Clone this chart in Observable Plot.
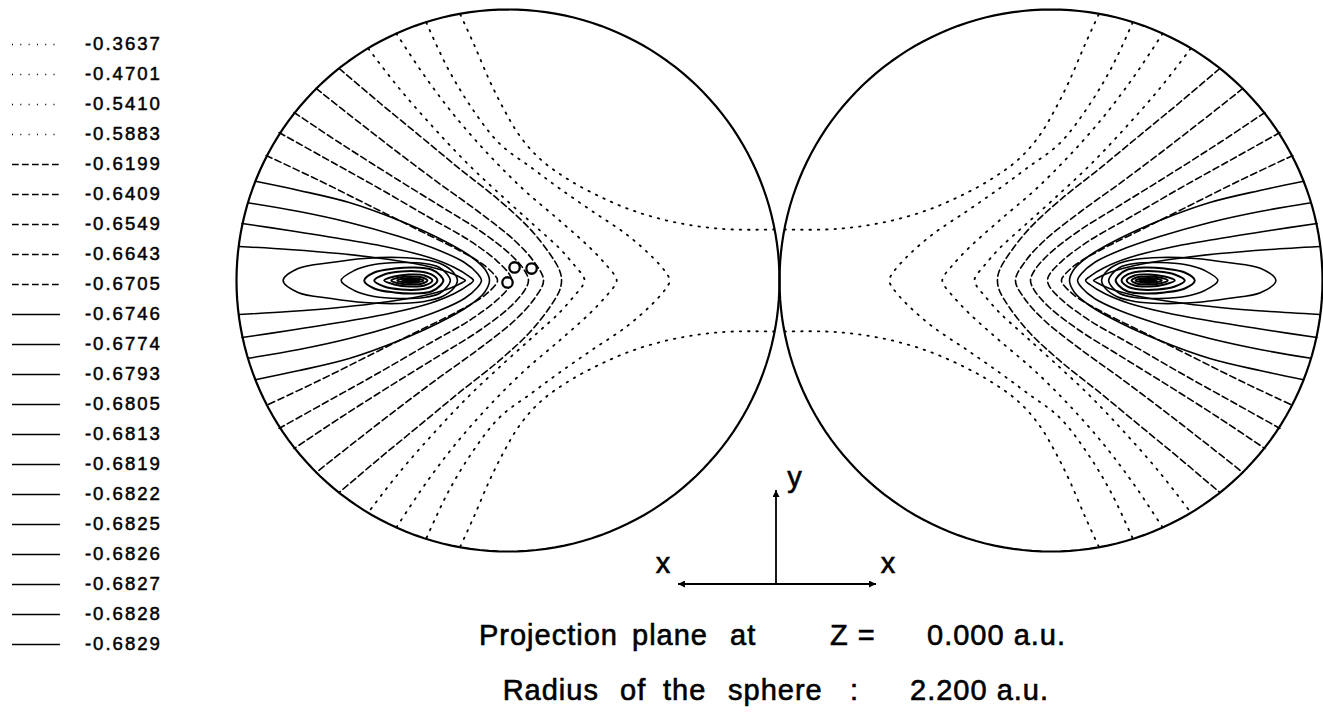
<!DOCTYPE html>
<html>
<head>
<meta charset="utf-8">
<script src="https://cdn.jsdelivr.net/npm/d3@7"></script>
<script src="https://cdn.jsdelivr.net/npm/@observablehq/plot@0.6"></script>
<style>
  html, body { margin: 0; padding: 0; background: #fff; }
  #page { position: relative; width: 1323px; height: 716px; overflow: hidden;
          font-family: "Liberation Sans", Arial, sans-serif; }
  #chart, #legend, #notes { position: absolute; left: 0; top: 0; }
  #notes { pointer-events: none; }
  #notes text { fill: #000; stroke: #000; stroke-width: 0.6px; letter-spacing: 1px; }
</style>
</head>
<body>
<div id="page">
  <div id="chart"></div>
  <div id="legend"></div>
  <svg id="notes" width="1323" height="716" font-family="Liberation Sans, Arial, sans-serif">
    <defs>
      <marker id="head" viewBox="0 0 10 10" refX="10" refY="5" markerUnits="userSpaceOnUse"
              markerWidth="9" markerHeight="7" orient="auto-start-reverse">
        <path d="M0,0L10,5L0,10z" fill="#000"/>
      </marker>
    </defs>
    <!-- orientation of the two projected hemispheres -->
    <line x1="776" y1="584" x2="776" y2="490" stroke="#000" stroke-width="1.8" marker-end="url(#head)"/>
    <line x1="678" y1="584" x2="876" y2="584" stroke="#000" stroke-width="1.8"
          marker-start="url(#head)" marker-end="url(#head)"/>
    <text x="663.5" y="573" font-size="29" text-anchor="middle">x</text>
    <text x="888.5" y="573" font-size="29" text-anchor="middle">x</text>
    <text x="795" y="487" font-size="29" text-anchor="middle">y</text>
    <text y="645" font-size="29">
      <tspan x="627" text-anchor="end">Projection</tspan>
      <tspan x="632">plane</tspan>
      <tspan x="730">at</tspan>
      <tspan x="830">Z =</tspan>
      <tspan x="927">0.000 a.u.</tspan>
    </text>
    <text y="700" font-size="29">
      <tspan x="608" text-anchor="end">Radius</tspan>
      <tspan x="620">of</tspan>
      <tspan x="663">the</tspan>
      <tspan x="728">sphere</tspan>
      <tspan x="850">:</tspan>
      <tspan x="910">2.200 a.u.</tspan>
    </text>
  </svg>
</div>
<script>
// Contour levels of the projected energy surface (hartree)
const contourLevels = [-0.3637, -0.4701, -0.5410, -0.5883, -0.6199, -0.6409, -0.6549, -0.6643,
  -0.6705, -0.6746, -0.6774, -0.6793, -0.6805, -0.6813, -0.6819, -0.6822, -0.6825, -0.6826,
  -0.6827, -0.6828, -0.6829];
const levelLabels = contourLevels.map(v => v.toFixed(4));
const lineStyles = ["dotted", "dotted", "dotted", "dotted",
  "dashed", "dashed", "dashed", "dashed", "dashed",
  "solid", "solid", "solid", "solid", "solid", "solid", "solid", "solid", "solid", "solid", "solid", "solid"];
// branch: reaches the equator on both sides; open: meets the rim; loop: closed around the minimum
const traceShapes = ["branch",
  "open", "open", "open", "open", "open", "open", "open", "open", "open", "open", "open", "open",
  "loop", "loop", "loop", "loop", "loop", "loop", "loop", "loop"];

// Upper half (y >= 0) of each contour, [x, y] in a.u. on the sphere of radius 2.2
const c3637 = [[0.386, 2.159], [0.272, 1.908], [0.150, 1.624], [0.028, 1.380], [-0.093, 1.177],
  [-0.256, 0.990], [-0.475, 0.828], [-0.743, 0.682], [-1.011, 0.568], [-1.287, 0.487],
  [-1.555, 0.438], [-1.822, 0.414], [-2.155, 0.414]];
const c4701 = [[0.662, 2.094], [0.491, 1.729], [0.296, 1.404], [0.069, 1.112], [-0.199, 0.909],
  [-0.418, 0.747], [-0.686, 0.560], [-0.962, 0.373], [-1.173, 0.187], [-1.279, 0.065], [-1.311, 0]];
const c5410 = [[0.905, 2.005], [0.678, 1.664], [0.434, 1.339], [0.150, 1.015], [-0.134, 0.731],
  [-0.418, 0.487], [-0.662, 0.268], [-0.800, 0.122], [-0.865, 0.041], [-0.881, 0]];
const c5883 = [[1.132, 1.883], [0.881, 1.559], [0.597, 1.234], [0.313, 0.934], [0.028, 0.666],
  [-0.215, 0.446], [-0.418, 0.260], [-0.540, 0.122], [-0.605, 0.041], [-0.621, 0]];
const c6199 = [[1.368, 1.721], [1.043, 1.445], [0.718, 1.177], [0.394, 0.909], [0.069, 0.649],
  [-0.175, 0.422], [-0.337, 0.219], [-0.418, 0.081], [-0.434, 0]];
const c6409 = [[1.555, 1.559], [1.206, 1.283], [0.881, 1.031], [0.556, 0.787], [0.231, 0.552],
  [-0.053, 0.325], [-0.215, 0.146], [-0.288, 0]];
const c6549 = [[1.733, 1.364], [1.368, 1.120], [0.962, 0.861], [0.556, 0.609], [0.231, 0.406],
  [-0.012, 0.219], [-0.134, 0.081], [-0.166, 0]];
const c6643 = [[1.855, 1.201], [1.449, 0.974], [1.043, 0.747], [0.637, 0.511], [0.313, 0.325],
  [0.093, 0.162], [-0.012, 0.049], [-0.028, 0]];
const c6705 = [[1.960, 1.015], [1.530, 0.812], [1.124, 0.609], [0.718, 0.406], [0.394, 0.244],
  [0.191, 0.122], [0.093, 0.024], [0.085, 0]];
const c6746 = [[2.047, 0.805], [1.693, 0.731], [1.287, 0.633], [0.881, 0.487], [0.556, 0.341],
  [0.313, 0.203], [0.191, 0.097], [0.150, 0]];
const c6774 = [[2.107, 0.631], [1.693, 0.560], [1.287, 0.471], [0.881, 0.357], [0.556, 0.244],
  [0.353, 0.146], [0.248, 0.057], [0.215, 0]];
const c6793 = [[2.155, 0.463], [1.774, 0.406], [1.368, 0.341], [0.962, 0.268], [0.637, 0.187],
  [0.434, 0.106], [0.313, 0.032], [0.280, 0]];
const c6805 = [[2.180, 0.276], [1.774, 0.252], [1.368, 0.219], [0.962, 0.170], [0.678, 0.122],
  [0.475, 0.065], [0.369, 0.016], [0.345, 0]];
const c6813 = [[1.822, 0], [1.701, 0.097], [1.433, 0.146], [1.165, 0.179], [0.889, 0.187],
  [0.678, 0.170], [0.532, 0.130], [0.442, 0.065], [0.410, 0]];
const c6819 = [[1.352, 0], [1.246, 0.081], [1.084, 0.130], [0.881, 0.146], [0.678, 0.138],
  [0.556, 0.106], [0.491, 0.049], [0.467, 0]];
const c6822 = [[1.165, 0], [1.084, 0.065], [0.921, 0.097], [0.759, 0.106], [0.621, 0.089],
  [0.548, 0.041], [0.524, 0]];
const c6825 = [[1.084, 0], [1.003, 0.049], [0.865, 0.073], [0.718, 0.073], [0.621, 0.049], [0.572, 0]];
const c6826 = [[1.003, 0], [0.921, 0.032], [0.800, 0.049], [0.678, 0.041], [0.613, 0]];
const c6827 = [[0.946, 0], [0.881, 0.024], [0.783, 0.032], [0.694, 0.024], [0.653, 0]];
const c6828 = [[0.897, 0], [0.840, 0.016], [0.743, 0.016], [0.686, 0]];
const c6829 = [[0.856, 0], [0.800, 0.008], [0.751, 0.008], [0.718, 0]];
const upperTraces = [c3637, c4701, c5410, c5883, c6199, c6409, c6549, c6643, c6705, c6746,
  c6774, c6793, c6805, c6813, c6819, c6822, c6825, c6826, c6827, c6828, c6829];

// Marked points in the left view, [x, y] in a.u.
const markedPoints = [[0.004, -0.016], [-0.053, 0.106], [-0.191, 0.097]];

const sphereRadius = 2.2;

// The left view has x pointing left, the right view has x pointing right.
const hemispheres = [
  {name: "left", center: -sphereRadius, sign: -1},
  {name: "right", center: sphereRadius, sign: 1}
];

const mirror = pts => pts.map(([x, y]) => [x, -y]);
function pieces(pts, shape) {
  if (shape === "branch") return [pts, mirror(pts)];
  if (shape === "open") return [pts.concat(mirror(pts.slice(0, -1)).reverse())];
  return [pts.concat(mirror(pts.slice(1, -1)).reverse())];
}

const rows = [];
upperTraces.forEach((pts, i) => {
  for (const h of hemispheres) {
    pieces(pts, traceShapes[i]).forEach((piece, k) => {
      for (const [x, y] of piece) {
        rows.push({id: `${h.name}-${i}-${k}`, level: contourLevels[i], style: lineStyles[i],
          shape: traceShapes[i], u: h.center + h.sign * x, y});
      }
    });
  }
});

const rim = [];
for (const h of hemispheres) {
  for (const a of d3.range(0, 361, 2)) {
    const t = a * Math.PI / 180;
    rim.push({id: h.name, u: h.center + sphereRadius * Math.cos(t), y: sphereRadius * Math.sin(t)});
  }
}

const marked = markedPoints.map(([x, y]) => ({u: -sphereRadius - x, y}));

const dashFor = {solid: undefined, dashed: "6.5,3.5", dotted: "1.5,6.8"};
const widthFor = {solid: 1.6, dashed: 1.6, dotted: 1.8};

const contourMarks = ["dotted", "dashed", "solid"].map(st =>
  Plot.line(rows.filter(r => r.style === st && r.shape !== "loop"), {
    x: "u", y: "y", z: "id", curve: "catmull-rom",
    stroke: "black", strokeWidth: widthFor[st], strokeDasharray: dashFor[st]
  }));

const chart = Plot.plot({
  width: 1323,
  height: 600,
  marginLeft: 236,
  marginRight: 1,
  marginTop: 9,
  marginBottom: 49,
  x: {domain: [-2 * sphereRadius, 2 * sphereRadius], axis: null},
  y: {domain: [-sphereRadius, sphereRadius], axis: null},
  style: {background: "transparent"},
  marks: [
    ...contourMarks,
    Plot.line(rows.filter(r => r.shape === "loop"), {
      x: "u", y: "y", z: "id", curve: "catmull-rom-closed", stroke: "black",
      strokeWidth: d => (d.level < -0.6821 ? 2 : 1.6)
    }),
    Plot.line(rim, {x: "u", y: "y", z: "id", stroke: "black", strokeWidth: 2.2}),
    Plot.dot(marked, {x: "u", y: "y", r: 5.2, stroke: "black", strokeWidth: 2.3, fill: "white"})
  ]
});
document.getElementById("chart").append(chart);

// Legend: one sample line per contour level
const legendRows = contourLevels.map((v, i) => ({label: levelLabels[i], style: lineStyles[i]}));
const legendDash = {solid: undefined, dashed: "6.7,3.3", dotted: "1,7.3"};
const legendWidth = {solid: 1.7, dashed: 1.6, dotted: 1.3};
const legend = Plot.plot({
  width: 230,
  height: 680,
  marginTop: 35,
  marginBottom: 28,
  marginLeft: 12,
  marginRight: 70,
  x: {domain: [0, 1], axis: null},
  y: {type: "point", domain: levelLabels, padding: 0, axis: null},
  style: {background: "transparent", fontFamily: "Liberation Sans, Arial, sans-serif",
          fontSize: "18.6px", letterSpacing: "2px"},
  marks: [
    ...["dotted", "dashed", "solid"].map(st =>
      Plot.ruleY(legendRows.filter(r => r.style === st), {
        y: "label", x1: 0, x2: 0.324, stroke: "black",
        strokeWidth: legendWidth[st], strokeDasharray: legendDash[st]
      })),
    Plot.text(legendRows, {y: "label", x: 1.01, text: "label", textAnchor: "end", fill: "black",
      stroke: "black", strokeWidth: 0.5, fontSize: 18.6})
  ]
});
document.getElementById("legend").append(legend);
</script>
</body>
</html>
